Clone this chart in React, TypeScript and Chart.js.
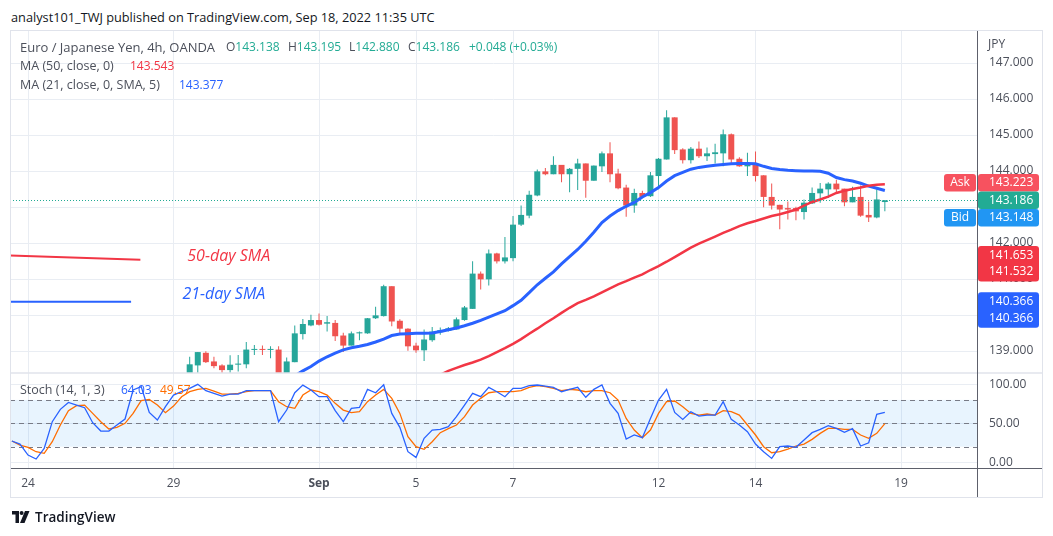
import React, { useEffect, useRef } from 'react';
import { Chart, registerables } from 'chart.js';

Chart.register(...registerables);

// ---------------- data ----------------
const X_TICKS = [0, 18, 36, 48, 60, 78, 90, 108];
const X_TICK_LABELS = ['24', '29', 'Sep', '5', '7', '12', '14', '19'];
const BOLD_TICK_LABELS = ['Sep'];
const X_MIN = -2.23;
const X_MAX = 117.4;

const PRICE_TICKS = [139, 140, 141, 142, 143, 144, 145, 146, 147];
const PRICE_MIN = 138.389;
const PRICE_MAX = 147.889;
const STOCH_TICKS = [0, 50, 100];
const STOCH_MIN = -7.3;
const STOCH_MAX = 114.5;
const STOCH_BAND = [80, 20];
const STOCH_LEVELS = [80, 50, 20];

const CANDLE_START = 20;
const OPEN = [
  138.30, 138.60, 138.95, 138.71, 138.60, 138.47, 138.62, 138.63, 139.03, 139.05,
  139.03, 139.04, 138.35, 138.69, 139.47, 139.71, 139.86, 139.76, 139.78, 139.43,
  139.15, 139.49, 139.49, 139.91, 139.97, 140.80, 139.84, 139.62, 139.15, 139.02,
  139.30, 139.52, 139.56, 139.60, 139.86, 140.17, 141.15, 140.99, 141.71, 141.49,
  141.58, 142.51, 142.76, 143.32, 143.99, 143.91, 144.17, 143.91, 144.06, 144.21,
  143.73, 144.13, 144.49, 143.93, 143.54, 143.04, 143.39, 143.30, 143.86, 144.32,
  145.49, 144.60, 144.30, 144.62, 144.41, 144.47, 144.49, 145.02, 144.34, 144.13,
  144.19, 143.88, 143.28, 143.06, 142.97, 142.97, 142.86, 143.10, 143.38, 143.49,
  143.65, 143.51, 143.13, 143.28, 142.78, 142.71, 143.138,
];
const HIGH = [
  138.84, 138.97, 138.99, 138.84, 138.63, 138.88, 138.89, 139.25, 139.17, 139.15,
  139.13, 139.13, 138.82, 139.71, 139.89, 140.01, 140.04, 139.97, 139.86, 139.51,
  139.54, 139.54, 139.92, 140.23, 140.84, 140.80, 139.88, 139.63, 139.23, 139.60,
  139.67, 139.65, 139.67, 139.93, 140.25, 141.49, 141.21, 141.82, 141.73, 142.17,
  142.75, 143.04, 143.45, 144.04, 144.08, 144.41, 144.17, 144.08, 144.34, 144.21,
  144.15, 144.54, 144.80, 144.06, 143.62, 143.51, 143.45, 143.97, 144.36, 145.69,
  145.49, 144.63, 144.67, 144.82, 144.65, 144.76, 145.15, 145.04, 144.38, 144.51,
  144.54, 143.88, 143.65, 143.06, 143.15, 143.01, 143.21, 143.54, 143.67, 143.69,
  143.76, 143.51, 143.56, 143.60, 143.15, 143.49, 143.195,
];
const LOW = [
  138.20, 138.39, 138.67, 138.52, 138.39, 138.39, 138.43, 138.52, 138.89, 138.89,
  138.80, 138.30, 138.30, 138.69, 139.32, 139.69, 139.71, 139.54, 139.28, 138.97,
  139.15, 139.30, 139.48, 139.89, 139.96, 139.69, 139.45, 139.01, 138.95, 138.72,
  139.26, 139.45, 139.54, 139.60, 139.84, 140.17, 140.71, 140.82, 141.43, 141.43,
  141.49, 142.47, 142.69, 143.30, 143.88, 143.91, 143.69, 143.41, 143.47, 143.26,
  143.73, 143.97, 143.69, 143.49, 142.73, 142.84, 143.26, 143.28, 143.49, 144.32,
  144.47, 144.21, 144.21, 144.36, 144.28, 144.21, 144.13, 144.21, 144.12, 143.86,
  143.71, 142.99, 142.93, 142.38, 142.65, 142.63, 142.65, 143.08, 143.12, 143.25,
  143.39, 143.02, 143.13, 142.73, 142.58, 142.69, 142.880,
];
const CLOSE = [
  138.63, 138.97, 138.69, 138.58, 138.47, 138.62, 138.65, 139.04, 139.05, 139.03,
  139.05, 138.35, 138.71, 139.49, 139.75, 139.86, 139.73, 139.80, 139.41, 139.15,
  139.49, 139.52, 139.91, 139.99, 140.80, 139.82, 139.62, 139.13, 139.02, 139.32,
  139.54, 139.58, 139.63, 139.88, 140.21, 141.15, 140.99, 141.71, 141.49, 141.60,
  142.51, 142.78, 143.34, 143.99, 143.91, 144.17, 143.91, 144.06, 144.21, 143.73,
  144.15, 144.49, 143.91, 143.52, 143.04, 143.39, 143.28, 143.88, 144.34, 145.49,
  144.58, 144.30, 144.62, 144.41, 144.49, 144.52, 145.02, 144.32, 144.13, 144.19,
  143.86, 143.28, 143.04, 142.93, 142.93, 142.88, 143.12, 143.39, 143.51, 143.65,
  143.49, 143.13, 143.28, 142.76, 142.71, 143.21, 143.186,
];

const MA21_START = 33;
const MA21 = [
  138.31, 138.45, 138.57, 138.72, 138.84, 138.94, 139.03, 139.09, 139.13, 139.18,
  139.25, 139.33, 139.43, 139.47, 139.48, 139.49, 139.49, 139.50, 139.54, 139.59,
  139.64, 139.70, 139.77, 139.85, 139.94, 140.03, 140.12, 140.26, 140.41, 140.62,
  140.84, 141.02, 141.20, 141.42, 141.62, 141.82, 142.05, 142.30, 142.57, 142.75,
  142.90, 143.02, 143.13, 143.28, 143.40, 143.54, 143.72, 143.87, 143.96, 144.05,
  144.10, 144.13, 144.16, 144.18, 144.20, 144.21, 144.21, 144.20, 144.13, 144.07,
  144.04, 144.02, 144.01, 144.00, 144.00, 143.99, 143.94, 143.82, 143.76, 143.72,
  143.66, 143.58, 143.52, 143.46,
];
const MA50_START = 50;
const MA50 = [
  138.26, 138.34, 138.45, 138.53, 138.61, 138.68, 138.76, 138.86, 138.97, 139.08,
  139.20, 139.33, 139.48, 139.62, 139.77, 139.91, 140.06, 140.20, 140.33, 140.42,
  140.52, 140.63, 140.74, 140.85, 140.94, 141.04, 141.13, 141.25, 141.36, 141.48,
  141.61, 141.74, 141.87, 141.98, 142.08, 142.18, 142.28, 142.37, 142.47, 142.55,
  142.61, 142.68, 142.75, 142.80, 142.86, 142.93, 143.04, 143.14, 143.21, 143.29,
  143.39, 143.45, 143.50, 143.54, 143.59, 143.62, 143.63,
];

const STOCH_START = -2;
const STOCH_K = [
  27.3, 23.4, 9.3, 4.2, 17.9, 52.1, 67.9, 76.8, 73.4, 70.0,
  50.8, 40.1, 40.1, 47.8, 55.5, 92.7, 97.0, 64.0, 54.2, 71.3,
  86.2, 90.5, 94.8, 100, 91.8, 88.4, 85.0, 87.5, 87.5, 91.8,
  91.8, 91.8, 91.8, 52.1, 67.0, 89.2, 99.0, 92.7, 84.1, 84.1,
  66.2, 52.1, 69.2, 70.4, 93.5, 89.2, 99.5, 62.7, 44.8, 13.6,
  6.3, 30.7, 41.4, 42.2, 45.7, 58.5, 73.4, 88.4, 84.1, 96.1,
  90.5, 84.1, 94.8, 94.8, 98.2, 99.1, 97.8, 96.1, 90.5, 93.5,
  96.1, 83.3, 93.5, 99.1, 75.6, 62.7, 29.8, 35.0, 31.5, 56.3,
  79.8, 93.5, 64.0, 55.0, 64.9, 59.3, 60.6, 60.6, 77.7, 55.0,
  47.8, 39.2, 23.4, 13.6, 5.0, 20.0, 20.9, 19.2, 28.6, 38.0,
  42.2, 46.9, 43.5, 38.4, 43.1, 20.9, 25.1, 61.5, 64.03,
];
const STOCH_D = [
  27.3, 22.1, 19.2, 13.6, 11.5, 26.4, 47.8, 66.2, 72.6, 73.4,
  62.7, 52.1, 42.7, 44.8, 50.0, 62.7, 79.0, 80.7, 73.4, 63.6,
  72.1, 84.1, 90.5, 93.5, 94.8, 91.4, 87.5, 87.5, 88.4, 90.5,
  91.8, 91.8, 91.8, 77.7, 71.3, 69.2, 86.2, 92.7, 90.5, 86.2,
  75.6, 67.0, 63.6, 64.9, 77.7, 86.2, 93.5, 82.0, 62.7, 32.8,
  20.0, 16.6, 26.4, 38.0, 43.1, 47.8, 58.5, 73.4, 82.0, 89.2,
  90.5, 90.5, 90.5, 91.8, 96.1, 98.2, 96.9, 94.8, 91.8, 93.5,
  92.7, 90.5, 91.8, 91.8, 89.2, 79.8, 56.3, 41.4, 31.5, 41.4,
  62.7, 77.7, 78.6, 71.3, 62.7, 60.6, 61.9, 60.6, 66.2, 64.9,
  60.6, 47.8, 35.0, 20.0, 12.3, 13.6, 17.0, 20.9, 23.4, 29.4,
  37.1, 43.5, 43.5, 42.2, 42.2, 35.0, 30.7, 37.1, 49.57,
];

// drawings (time index, price)
const RED_LINE = [[-2.2, 141.653], [13.9, 141.532]];
const RED_TEXT = { x: 19.7, y: 141.64, text: '50-day SMA' };
const BLUE_LINE = [[-2.2, 140.366], [12.75, 140.366]];
const BLUE_TEXT = { x: 19.1, y: 140.56, text: '21-day SMA' };

const ASK = 143.223;
const LAST = 143.186;
const BID = 143.148;

// ---------------- styles ----------------
const UP = '#26A69A';
const DOWN = '#EF5350';
const FONT = '"Open Sans", "Liberation Sans", sans-serif';
const TXT = '#4C505B';
const GRID = '#E9EDF3';
const MAIN_H = 342;
const STOCH_H = 95;

const candleColors = OPEN.map((o, k) => (CLOSE[k] >= o ? UP : DOWN));

function fmt3(v: number) {
  return v.toFixed(3);
}

const decorPlugin = {
  id: 'decor',
  beforeDatasetsDraw(chart: any) {
    const { ctx, chartArea } = chart;
    const s2 = chart.scales.y2;
    ctx.save();
    const t = s2.getPixelForValue(STOCH_BAND[0]);
    const b = s2.getPixelForValue(STOCH_BAND[1]);
    ctx.fillStyle = 'rgba(33,150,243,0.1)';
    ctx.fillRect(chartArea.left, t, chartArea.right - chartArea.left, b - t);
    ctx.strokeStyle = '#787B86';
    ctx.lineWidth = 1;
    ctx.setLineDash([5, 4]);
    for (const lv of STOCH_LEVELS) {
      const y = Math.round(s2.getPixelForValue(lv)) + 0.5;
      ctx.beginPath();
      ctx.moveTo(chartArea.left, y);
      ctx.lineTo(chartArea.right, y);
      ctx.stroke();
    }
    ctx.restore();
  },
  afterDatasetsDraw(chart: any) {
    const { ctx, chartArea } = chart;
    const xs = chart.scales.x;
    const ys = chart.scales.y;
    ctx.save();
    ctx.beginPath();
    ctx.rect(chartArea.left, ys.top, chartArea.right - chartArea.left, ys.bottom - ys.top);
    ctx.clip();
    const yl = Math.round(ys.getPixelForValue(LAST)) + 0.5;
    ctx.strokeStyle = '#22AB94';
    ctx.lineWidth = 1;
    ctx.setLineDash([1, 2]);
    ctx.beginPath();
    ctx.moveTo(chartArea.left, yl);
    ctx.lineTo(chartArea.right, yl);
    ctx.stroke();
    ctx.setLineDash([]);
    const drawLine = (pts: number[][], color: string) => {
      ctx.strokeStyle = color;
      ctx.lineWidth = 2;
      ctx.beginPath();
      pts.forEach((p, k) => {
        const px = xs.getPixelForValue(p[0]);
        const py = ys.getPixelForValue(p[1]);
        if (k === 0) ctx.moveTo(px, py);
        else ctx.lineTo(px, py);
      });
      ctx.stroke();
    };
    drawLine(RED_LINE, '#F23645');
    drawLine(BLUE_LINE, '#2962FF');
    ctx.font = `italic 16px ${FONT}`;
    ctx.textBaseline = 'middle';
    ctx.textAlign = 'left';
    ctx.fillStyle = '#F23645';
    ctx.fillText(RED_TEXT.text, xs.getPixelForValue(RED_TEXT.x), ys.getPixelForValue(RED_TEXT.y));
    ctx.fillStyle = '#2962FF';
    ctx.fillText(BLUE_TEXT.text, xs.getPixelForValue(BLUE_TEXT.x), ys.getPixelForValue(BLUE_TEXT.y));
    ctx.restore();

    ctx.save();
    ctx.strokeStyle = '#E0E3EB';
    ctx.lineWidth = 1.5;
    ctx.beginPath();
    ctx.moveTo(10, ys.bottom);
    ctx.lineTo(1042, ys.bottom);
    ctx.stroke();
    ctx.strokeStyle = '#5D606B';
    ctx.lineWidth = 1;
    ctx.beginPath();
    ctx.moveTo(10, Math.round(chartArea.bottom) + 0.5);
    ctx.lineTo(1042, Math.round(chartArea.bottom) + 0.5);
    ctx.moveTo(Math.round(chartArea.right) + 0.5, 31);
    ctx.lineTo(Math.round(chartArea.right) + 0.5, 497);
    ctx.stroke();

    const axL = chartArea.right + 1;
    const axR = 1039;
    const boxH = 17.5;
    const box = (cy: number, h: number, color: string, x0: number, x1: number) => {
      ctx.fillStyle = color;
      ctx.beginPath();
      (ctx as any).roundRect(x0, cy - h / 2, x1 - x0, h, 3);
      ctx.fill();
    };
    ctx.font = `12px ${FONT}`;
    ctx.textBaseline = 'middle';
    const cLast = ys.getPixelForValue(LAST);
    const group = [
      { v: ASK, c: '#F7525F', tag: 'Ask', cy: cLast - boxH },
      { v: LAST, c: '#22AB94', tag: '', cy: cLast },
      { v: BID, c: '#2196F3', tag: 'Bid', cy: cLast + boxH },
    ];
    for (const g of group) {
      box(g.cy, boxH, g.c, axL, axR);
      ctx.fillStyle = '#fff';
      ctx.textAlign = 'left';
      ctx.fillText(fmt3(g.v), 989, g.cy);
      if (g.tag) {
        box(g.cy, boxH, g.c, 944, chartArea.right - 1);
        ctx.fillStyle = '#fff';
        ctx.textAlign = 'center';
        ctx.fillText(g.tag, 960, g.cy);
      }
    }
    const stacked = (vals: number[], color: string) => {
      const c0 = ys.getPixelForValue(vals[0]);
      const step = 16.5;
      const top = c0 - 9.5;
      const bottom = c0 + step * (vals.length - 1) + 9.5;
      ctx.fillStyle = color;
      ctx.beginPath();
      (ctx as any).roundRect(axL, top, axR - axL, bottom - top, 3);
      ctx.fill();
      ctx.fillStyle = '#fff';
      ctx.textAlign = 'left';
      vals.forEach((v, k) => ctx.fillText(fmt3(v), 989, c0 + k * step));
    };
    stacked([RED_LINE[0][1], RED_LINE[1][1]], '#F23645');
    stacked([BLUE_LINE[0][1], BLUE_LINE[1][1]], '#2962FF');
    ctx.restore();
  },
};

function ChartCanvas() {
  const ref = useRef<HTMLCanvasElement | null>(null);
  useEffect(() => {
    const canvas = ref.current;
    if (!canvas) return;
    const chart = new Chart(canvas, {
      type: 'bar',
      data: {
        datasets: [
          {
            type: 'line',
            label: 'MA (50, close, 0)',
            data: MA50.map((v, k) => ({ x: MA50_START + k, y: v })),
            borderColor: '#F23645',
            borderWidth: 2.5,
            pointRadius: 0,
            xAxisID: 'x',
            yAxisID: 'y',
            order: 0,
          },
          {
            type: 'line',
            label: 'MA (21, close, 0, SMA, 5)',
            data: MA21.map((v, k) => ({ x: MA21_START + k, y: v })),
            borderColor: '#2962FF',
            borderWidth: 3,
            pointRadius: 0,
            xAxisID: 'x',
            yAxisID: 'y',
            order: 0,
          },
          {
            type: 'bar',
            label: 'wicks',
            data: LOW.map((l, k) => ({ x: CANDLE_START + k, y: [l, HIGH[k]] })),
            backgroundColor: candleColors,
            barThickness: 1,
            grouped: false,
            borderWidth: 0,
            inflateAmount: 0,
            xAxisID: 'x',
            yAxisID: 'y',
            order: 2,
          },
          {
            type: 'bar',
            label: 'bodies',
            data: OPEN.map((o, k) => ({ x: CANDLE_START + k, y: [o, CLOSE[k]] })),
            backgroundColor: candleColors,
            barThickness: 6,
            grouped: false,
            borderWidth: 0,
            inflateAmount: 0,
            minBarLength: 1,
            xAxisID: 'x',
            yAxisID: 'y',
            order: 1,
          },
          {
            type: 'line',
            label: '%K',
            data: STOCH_K.map((v, k) => ({ x: STOCH_START + k, y: v })),
            borderColor: '#2962FF',
            borderWidth: 1.3,
            pointRadius: 0,
            xAxisID: 'x',
            yAxisID: 'y2',
            order: 0,
          },
          {
            type: 'line',
            label: '%D',
            data: STOCH_D.map((v, k) => ({ x: STOCH_START + k, y: v })),
            borderColor: '#FF6D00',
            borderWidth: 1.3,
            pointRadius: 0,
            xAxisID: 'x',
            yAxisID: 'y2',
            order: 0,
          },
        ] as any,
      },
      options: {
        responsive: false,
        animation: false,
        devicePixelRatio: 1,
        events: [],
        layout: { padding: { left: 10, top: 31, right: 11, bottom: 39 } },
        plugins: { legend: { display: false }, tooltip: { enabled: false } },
        scales: {
          x: {
            type: 'linear',
            position: 'bottom',
            min: X_MIN,
            max: X_MAX,
            offset: false,
            grid: { color: GRID, drawTicks: false, offset: false },
            border: { display: false },
            ticks: {
              autoSkip: false,
              maxRotation: 0,
              padding: 8,
              color: TXT,
              font: (c: any) => {
                const idx = X_TICKS.indexOf(c.tick ? c.tick.value : -999);
                const lab = idx >= 0 ? X_TICK_LABELS[idx] : '';
                return { family: FONT, size: 12, weight: BOLD_TICK_LABELS.includes(lab) ? 'bold' : 'normal' };
              },
              callback: (v: any) => {
                const idx = X_TICKS.indexOf(Number(v));
                return idx >= 0 ? X_TICK_LABELS[idx] : '';
              },
            },
            afterBuildTicks: (s: any) => {
              s.ticks = X_TICKS.map((v) => ({ value: v }));
            },
            afterFit: (s: any) => {
              s.height = 29;
            },
          },
          y: {
            type: 'linear',
            position: 'right',
            stack: 'panes',
            stackWeight: MAIN_H,
            weight: 1,
            min: PRICE_MIN,
            max: PRICE_MAX,
            grid: { color: GRID, drawTicks: false },
            border: { display: false },
            ticks: { padding: 12, color: TXT, font: { family: FONT, size: 12 }, callback: (v: any) => fmt3(Number(v)) },
            afterBuildTicks: (s: any) => {
              s.ticks = PRICE_TICKS.map((v) => ({ value: v }));
            },
            afterFit: (s: any) => {
              s.width = 65;
            },
          },
          y2: {
            type: 'linear',
            position: 'right',
            stack: 'panes',
            stackWeight: STOCH_H,
            weight: 2,
            min: STOCH_MIN,
            max: STOCH_MAX,
            grid: { color: GRID, drawTicks: false },
            border: { display: false },
            ticks: { padding: 12, color: TXT, font: { family: FONT, size: 12 }, callback: (v: any) => Number(v).toFixed(2) },
            afterBuildTicks: (s: any) => {
              s.ticks = STOCH_TICKS.map((v) => ({ value: v }));
            },
            afterFit: (s: any) => {
              s.width = 65;
            },
          },
        } as any,
      },
      plugins: [decorPlugin],
    });
    return () => chart.destroy();
  }, []);
  return <canvas ref={ref} width={1053} height={536} style={{ position: 'absolute', left: 0, top: 0, width: 1053, height: 536 }} />;
}

const abs = (left: number, top: number, extra: any = {}) => ({
  position: 'absolute' as const,
  left,
  top,
  whiteSpace: 'nowrap' as const,
  lineHeight: '16px',
  ...extra,
});

export default function App() {
  const lg = { fontFamily: FONT, fontSize: 12, color: TXT };
  const green = '#22AB94';
  return (
    <div style={{ position: 'fixed', left: 0, top: 0, width: 1053, height: 536, background: '#fff', overflow: 'hidden' }}>
      <div style={abs(11, 9, { fontFamily: FONT, fontSize: 12.75, color: '#131722' })}>
        analyst101_TWJ published on TradingView.com, Sep 18, 2022 11:35 UTC
      </div>
      <ChartCanvas />
      <div style={{ position: 'absolute', left: 10, top: 30, width: 1031, height: 466, border: '1px solid #E0E3EB', pointerEvents: 'none' }} />
      <div style={abs(20, 39, { ...lg, fontSize: 13 })}>Euro / Japanese Yen, 4h, OANDA</div>
      <div style={abs(226, 39, lg)}>O<span style={{ color: green }}>143.138</span></div>
      <div style={abs(288, 39, lg)}>H<span style={{ color: green }}>143.195</span></div>
      <div style={abs(349, 39, lg)}>L<span style={{ color: green }}>142.880</span></div>
      <div style={abs(408, 39, lg)}>C<span style={{ color: green }}>143.186</span></div>
      <div style={abs(469, 39, { ...lg, color: green })}>+0.048 (+0.03%)</div>
      <div style={abs(20, 58, { ...lg, fontSize: 12.5 })}>MA (50, close, 0)</div>
      <div style={abs(130, 58, { ...lg, color: '#F23645' })}>143.543</div>
      <div style={abs(20, 77, { ...lg, fontSize: 12.5 })}>MA (21, close, 0, SMA, 5)</div>
      <div style={abs(179, 77, { ...lg, color: '#2962FF' })}>143.377</div>
      <div style={abs(988, 36, lg)}>JPY</div>
      <div style={abs(20, 382, { ...lg, fontSize: 12.5 })}>Stoch (14, 1, 3)</div>
      <div style={abs(121, 382, { ...lg, color: '#2962FF' })}>64.03</div>
      <div style={abs(160, 382, { ...lg, color: '#FF6D00' })}>49.57</div>
      <svg style={{ position: 'absolute', left: 12, top: 511 }} width="18" height="13" viewBox="0 0 18 13">
        <path d="M0 0h7v12H3.5V3.5H0z" fill="#131722" />
        <circle cx="9.6" cy="2" r="2" fill="#131722" />
        <path d="M8 12l5-12h4.5l-5 12z" fill="#131722" />
      </svg>
      <div style={abs(35, 509, { fontFamily: FONT, fontSize: 13.5, fontWeight: 600, color: '#131722' })}>TradingView</div>
    </div>
  );
}
